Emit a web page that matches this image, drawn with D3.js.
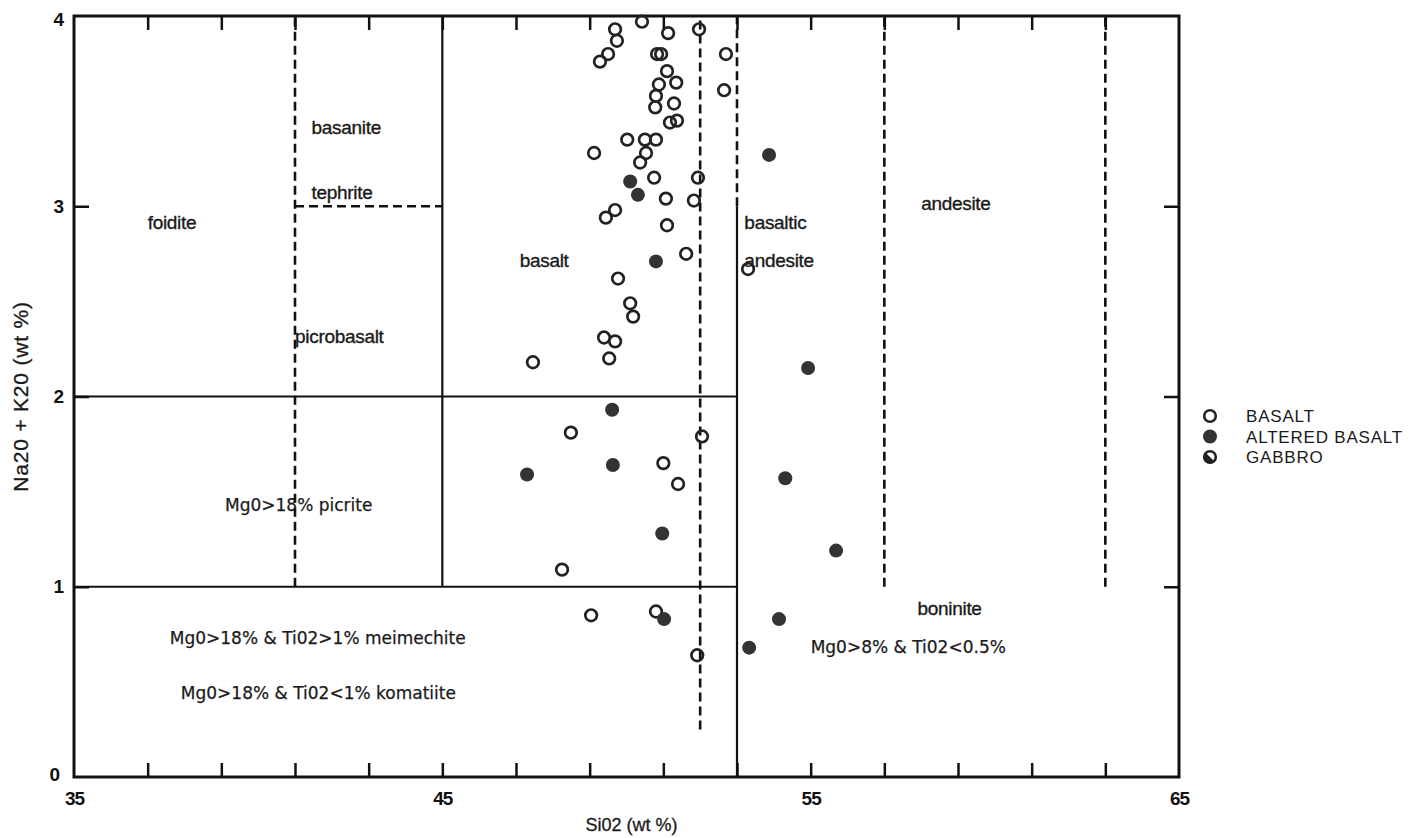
<!DOCTYPE html>
<html>
<head>
<meta charset="utf-8">
<script src="https://cdn.jsdelivr.net/npm/d3@7"></script>
<style>
  body { margin: 0; background: #fff; }
  svg { display: block; }
  .axis path { display: none; }
  .axis line { stroke: #111; stroke-width: 2.5px; }
  .ticklbl text { font-family: "Liberation Sans", Arial, sans-serif; font-weight: bold; font-size: 19px; fill: #111; letter-spacing: -1px; }
  .field { font-family: "Liberation Sans", Arial, sans-serif; font-size: 19px; fill: #1a1a1a; stroke: #1a1a1a; stroke-width: 0.35px; letter-spacing: -0.3px; }
  .field2 { font-family: "DejaVu Sans", sans-serif; font-size: 17px; fill: #1a1a1a; stroke: #1a1a1a; stroke-width: 0.25px; }
  .legend text { font-family: "Liberation Sans", Arial, sans-serif; font-size: 17px; fill: #1a1a1a; letter-spacing: 0.8px; }
  .title { font-family: "Liberation Sans", Arial, sans-serif; fill: #1a1a1a; stroke: #1a1a1a; stroke-width: 0.3px; }
</style>
</head>
<body>
<div id="chart"></div>
<script>
// SiO2 vs Na2O+K2O
var basaltSi = [49.69,49.74,49.50,49.28,50.42,51.13,51.97,50.83,50.94,52.70,52.65,51.10,51.35,50.88,50.80,50.78,51.29,51.37,51.18,50.02,50.50,50.80,49.12,50.53,50.37,50.75,51.94,51.07,51.83,49.69,49.44,51.10,51.62,53.30,49.77,50.10,50.18,49.39,49.69,49.53,47.46,48.49,52.05,51.00,51.40,48.25,49.04,50.80,51.92];
var basaltAlk = [3.93,3.87,3.80,3.76,3.97,3.91,3.93,3.80,3.80,3.80,3.61,3.71,3.65,3.64,3.58,3.52,3.54,3.45,3.44,3.35,3.35,3.35,3.28,3.28,3.23,3.15,3.15,3.04,3.03,2.98,2.94,2.90,2.75,2.67,2.62,2.49,2.42,2.31,2.29,2.20,2.18,1.81,1.79,1.65,1.54,1.09,0.85,0.87,0.64];
var alteredSi = [53.87,50.10,50.31,50.80,54.93,49.61,47.30,49.63,54.31,50.97,55.69,51.02,54.14,53.33];
var alteredAlk = [3.27,3.13,3.06,2.71,2.15,1.93,1.59,1.64,1.57,1.28,1.19,0.83,0.83,0.68];

var xLabels = [35,45,55,65];
var yLabels = [0,1,2,3,4];
var xMinor = [37,39,41,43,45,47,49,51,53,55,57,59,61,63];
var yMinor = [1,2,3];

// field boundaries [x1,y1,x2,y2]
var solidLines = [[35,2,53,2],[35,1,53,1],[45,1,45,4],[53,0,53,3]];
var dashedLines = [[41,1,41,4],[41,3,45,3],[52,0.25,52,4],[53,3,53,4],[57,1,57,4],[63,1,63,4]];

var fieldNames = [
  {t:"basanite", x:41.45, y:3.38, c:"field"},
  {t:"tephrite", x:41.45, y:3.04, c:"field"},
  {t:"foidite", x:37.0, y:2.88, c:"field"},
  {t:"basalt", x:47.1, y:2.68, c:"field"},
  {t:"picrobasalt", x:41.0, y:2.28, c:"field"},
  {t:"basaltic", x:53.2, y:2.88, c:"field"},
  {t:"andesite", x:53.2, y:2.68, c:"field"},
  {t:"andesite", x:58.0, y:2.98, c:"field"},
  {t:"Mg0>18% picrite", x:39.1, y:1.40, c:"field2"},
  {t:"boninite", x:57.9, y:0.85, c:"field"},
  {t:"Mg0>18% & Ti02>1% meimechite", x:37.6, y:0.70, c:"field2"},
  {t:"Mg0>8% & Ti02<0.5%", x:55.0, y:0.65, c:"field2"},
  {t:"Mg0>18% & Ti02<1% komatiite", x:37.9, y:0.41, c:"field2"}
];
var legendNames = ["BASALT","ALTERED BASALT","GABBRO"];

var W = 1423, H = 838;
var svg = d3.select("#chart").append("svg").attr("width", W).attr("height", H);

var x = d3.scaleLinear().domain([35,65]).range([74,1179]);
var y = d3.scaleLinear().domain([0,4]).range([777,16]);

// inward ticks on all four sides
svg.append("g").attr("class","axis").attr("transform","translate(0,"+y(0)+")")
  .call(d3.axisBottom(x).tickValues(xMinor).tickSize(-14).tickFormat(""));
svg.append("g").attr("class","axis").attr("transform","translate(0,"+y(4)+")")
  .call(d3.axisTop(x).tickValues(xMinor).tickSize(-14).tickFormat(""));
svg.append("g").attr("class","axis").attr("transform","translate("+x(35)+",0)")
  .call(d3.axisLeft(y).tickValues(yMinor).tickSize(-15).tickFormat(""));
svg.append("g").attr("class","axis").attr("transform","translate("+x(65)+",0)")
  .call(d3.axisRight(y).tickValues(yMinor).tickSize(-15).tickFormat(""));

// tick labels
svg.append("g").attr("class","axis ticklbl").attr("transform","translate(0,"+(y(0)+11)+")")
  .call(d3.axisBottom(x).tickValues(xLabels).tickSize(0).tickFormat(d3.format("d")));
var yl = svg.append("g").attr("class","axis ticklbl").attr("transform","translate("+(x(35)-8)+",0)")
  .call(d3.axisLeft(y).tickValues(yLabels).tickSize(0).tickFormat(d3.format("d")));
yl.selectAll(".tick").filter(function(d){ return d === 0; }).select("text").attr("dx", -4).attr("dy", "0.2em");
yl.selectAll(".tick").filter(function(d){ return d === 4; }).select("text").attr("dy", "0.5em");

// frame
svg.append("rect")
  .attr("x", x(35)).attr("y", y(4))
  .attr("width", x(65)-x(35)).attr("height", y(0)-y(4))
  .attr("fill","none").attr("stroke","#111").attr("stroke-width",3);

// field boundaries
svg.selectAll(".solid").data(solidLines).enter().append("line")
  .attr("x1", function(d){ return x(d[0]); }).attr("y1", function(d){ return y(d[1]); })
  .attr("x2", function(d){ return x(d[2]); }).attr("y2", function(d){ return y(d[3]); })
  .attr("stroke","#111").attr("stroke-width",2.2);
svg.selectAll(".dashed").data(dashedLines).enter().append("line")
  .attr("x1", function(d){ return x(d[0]); }).attr("y1", function(d){ return y(d[1]); })
  .attr("x2", function(d){ return x(d[2]); }).attr("y2", function(d){ return y(d[3]); })
  .attr("stroke","#111").attr("stroke-width",2.6).attr("stroke-dasharray","9,5");

// field names
svg.selectAll(".fname").data(fieldNames).enter().append("text")
  .attr("class", function(d){ return d.c; })
  .attr("x", function(d){ return x(d.x); })
  .attr("y", function(d){ return y(d.y); })
  .text(function(d){ return d.t; });

// points
var basalt = basaltSi.map(function(v,i){ return [v, basaltAlk[i]]; });
var altered = alteredSi.map(function(v,i){ return [v, alteredAlk[i]]; });

svg.selectAll(".bas").data(basalt).enter().append("circle")
  .attr("cx", function(d){ return x(d[0]); }).attr("cy", function(d){ return y(d[1]); })
  .attr("r", 5.8).attr("fill","none").attr("stroke","#222").attr("stroke-width",2.7);
svg.selectAll(".alt").data(altered).enter().append("circle")
  .attr("cx", function(d){ return x(d[0]); }).attr("cy", function(d){ return y(d[1]); })
  .attr("r", 7).attr("fill","#333");

// axis titles
svg.append("text").attr("class","title")
  .attr("x", (x(35)+x(65))/2 + 5).attr("y", 831)
  .attr("text-anchor","middle").style("font-size","18px")
  .text("Si02 (wt %)");
svg.append("text").attr("class","title")
  .attr("transform","translate(28,"+y(2)+") rotate(-90)")
  .attr("text-anchor","middle").style("font-size","21px").style("letter-spacing","0.8px")
  .text("Na20 + K20 (wt %)");

// legend
var lg = svg.append("g").attr("class","legend").attr("transform","translate(1210,416)");
var rows = lg.selectAll("g").data(legendNames).enter().append("g")
  .attr("transform", function(d,i){ return "translate(0,"+(i*20.5)+")"; });
rows.append("text").attr("x", 36).attr("y", 6).text(function(d){ return d; });
rows.each(function(d,i){
  var g = d3.select(this);
  if (i === 0) {
    g.append("circle").attr("r",5.8).attr("fill","none").attr("stroke","#222").attr("stroke-width",2.6);
  } else if (i === 1) {
    g.append("circle").attr("r",7).attr("fill","#333");
  } else {
    g.append("circle").attr("r",5.8).attr("fill","#fff").attr("stroke","#222").attr("stroke-width",2.6);
    g.append("path").attr("d","M-4.8,-4.8 A6.8,6.8 0 0,0 4.8,4.8 Z").attr("fill","#222");
  }
});
</script>
</body>
</html>
